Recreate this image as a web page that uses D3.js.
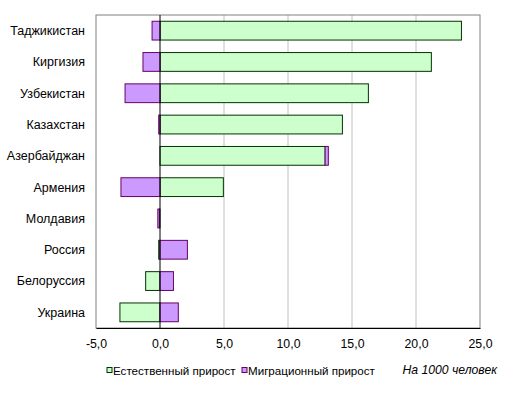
<!DOCTYPE html>
<html>
<head>
<meta charset="utf-8">
<script src="https://cdn.jsdelivr.net/npm/d3@7"></script>
<style>
body { margin: 0; background: #fff; }
text { font-family: Arial, "Liberation Sans", sans-serif; fill: #000; }
</style>
</head>
<body>
<div id="chart"></div>
<script>
const countries = ["Таджикистан", "Киргизия", "Узбекистан", "Казахстан", "Азербайджан",
    "Армения", "Молдавия", "Россия", "Белоруссия", "Украина"];
const natural = [23.55, 21.2, 16.28, 14.25, 12.9, 4.95, -0.05, -0.1, -1.12, -3.13];
const migration = [-0.62, -1.33, -2.73, -0.1, 0.25, -3.05, -0.12, 2.14, 1.05, 1.43];
const ticks = [-5, 0, 5, 10, 15, 20, 25];
const seriesNames = ["Естественный прирост", "Миграционный прирост"];

const width = 509, height = 394;
const margin = {top: 15, right: 29, bottom: 66, left: 96};

const svg = d3.select("#chart").append("svg")
    .attr("width", width)
    .attr("height", height);

const x = d3.scaleLinear().domain([-5, 25]).range([margin.left, width - margin.right]);
const y = d3.scaleBand().domain(countries).range([margin.top, height - margin.bottom]).paddingInner(0.4).paddingOuter(0.2);

// gridlines
svg.append("g")
    .selectAll("line")
    .data(ticks.filter(t => t > 0 && t < 25))
    .enter().append("line")
    .attr("x1", d => x(d)).attr("x2", d => x(d))
    .attr("y1", margin.top).attr("y2", height - margin.bottom)
    .attr("stroke", "#c0c0c0");

// plot border
svg.append("rect")
    .attr("x", x(-5)).attr("y", margin.top)
    .attr("width", x(25) - x(-5))
    .attr("height", height - margin.bottom - margin.top)
    .attr("fill", "none")
    .attr("stroke", "#808080");

// stacked bars: positives stack right of zero, negatives left
const rows = countries.map((c, i) => {
    let pos = 0, neg = 0;
    return [natural[i], migration[i]].map((v, k) => {
        let x0, x1;
        if (v >= 0) { x0 = pos; pos += v; x1 = pos; }
        else { x0 = neg; neg += v; x1 = neg; }
        return {country: c, k: k, x0: Math.min(x0, x1), x1: Math.max(x0, x1)};
    });
});

const fills = ["#ccffcc", "#cc99ff"];
const strokes = ["#003300", "#660066"];

svg.append("g")
    .selectAll("rect")
    .data(rows.flat())
    .enter().append("rect")
    .attr("x", d => x(d.x0))
    .attr("y", d => y(d.country))
    .attr("width", d => x(d.x1) - x(d.x0))
    .attr("height", y.bandwidth())
    .attr("fill", d => fills[d.k])
    .attr("stroke", d => strokes[d.k])
    .attr("stroke-width", 1);

// zero line (category axis)
svg.append("line")
    .attr("x1", x(0)).attr("x2", x(0))
    .attr("y1", margin.top).attr("y2", height - margin.bottom)
    .attr("stroke", "#000");

// value axis
const xAxis = svg.append("g")
    .attr("transform", `translate(0,${height - margin.bottom})`)
    .call(d3.axisBottom(x).tickValues(ticks).tickSize(0).tickPadding(11)
        .tickFormat(d => d3.format(".1f")(d).replace(".", ",").replace("−", "-")));
xAxis.select(".domain").attr("stroke", "#000");
xAxis.selectAll("text").attr("font-size", 12.3).attr("font-family", "Arial, 'Liberation Sans', sans-serif");

// category labels
svg.append("g")
    .selectAll("text")
    .data(countries)
    .enter().append("text")
    .attr("x", 85)
    .attr("y", d => y(d) + y.bandwidth() / 2)
    .attr("dy", "0.35em")
    .attr("text-anchor", "end")
    .attr("font-size", 12.5)
    .text(d => d);

// legend
const legend = svg.append("g").attr("transform", "translate(107,366)");
const legX = [0, 135];
seriesNames.forEach((name, i) => {
    legend.append("rect")
        .attr("x", legX[i]).attr("y", 1.5)
        .attr("width", 5).attr("height", 5)
        .attr("fill", fills[i]).attr("stroke", strokes[i]);
    legend.append("text")
        .attr("x", legX[i] + 6).attr("y", 8.5)
        .attr("font-size", 11.6)
        .text(name);
});

svg.append("text")
    .attr("x", 497).attr("y", 374)
    .attr("text-anchor", "end")
    .attr("font-size", 12.2)
    .attr("font-style", "italic")
    .text("На 1000 человек");
</script>
</body>
</html>
